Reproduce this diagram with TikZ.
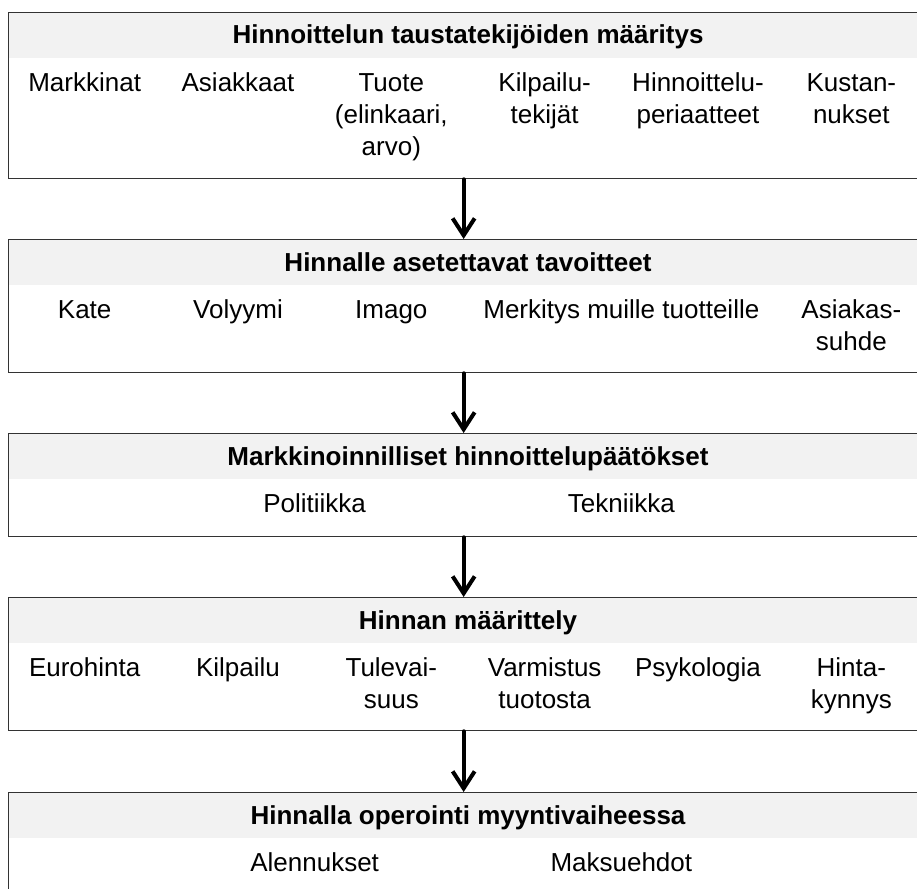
\documentclass[tikz,border=0pt]{standalone}
\usepackage{fontspec}
\setmainfont{Liberation Sans}
\usetikzlibrary{arrows.meta}
\definecolor{bandgray}{HTML}{F2F2F2}
\definecolor{framegray}{HTML}{333333}
\tikzset{
  stage/.style={draw=framegray,line width=1.3pt,minimum width=920pt,inner sep=0pt,anchor=north west},
  band/.style={fill=bandgray,minimum width=920pt,minimum height=46pt,inner sep=0pt,anchor=north west},
  title/.style={font=\fontsize{26}{32}\selectfont\bfseries,anchor=base,inner sep=0pt},
  item/.style={font=\fontsize{26}{32}\selectfont,align=center,anchor=north,inner sep=0pt},
  flow/.style={line width=4pt,-{Straight Barb[length=17pt,width=22pt]}}
}

\begin{document}
\begin{tikzpicture}[x=1pt,y=-1pt,line cap=round]
  \pgfmathsetmacro{\lx}{8}          % left edge of the boxes
  \pgfmathsetmacro{\cw}{153.33}     % column width
  \pgfmathsetmacro{\cx}{\lx+3*\cw}  % centre of the boxes
  \clip (0,0) rectangle (917,888);

  % taustatekijat
  \node[band] (taustatband) at (\lx,12) {};
  \node[stage,minimum height=166pt] (taustat) at (\lx,12) {};
  \node[title] (taustatotsikko) at (\cx,44) {Hinnoittelun taustatekijöiden määritys};
  \foreach \txt [count=\i] in {Markkinat,Asiakkaat,{Tuote\\(elinkaari,\\arvo)},
      {Kilpailu-\\tekijät},{Hinnoittelu-\\periaatteet},{Kustan-\\nukset}}{
    \node[item] (tekija\i) at ({\lx+(\i-0.5)*\cw},68.6) {\strut\txt};
  }

  % tavoitteet
  \node[band] (tavoitteetband) at (\lx,239) {};
  \node[stage,minimum height=133pt] (tavoitteet) at (\lx,239) {};
  \node[title] (tavoitteetotsikko) at (\cx,271) {Hinnalle asetettavat tavoitteet};
  \foreach \txt [count=\i] in {Kate,Volyymi,Imago}{
    \node[item] (tavoite\i) at ({\lx+(\i-0.5)*\cw},295.6) {\strut\txt};
  }
  \node[item] (tavoite4) at ({\lx+4*\cw},295.6) {\strut Merkitys muille tuotteille};
  \node[item] (tavoite5) at ({\lx+5.5*\cw},295.6) {\strut Asiakas-\\suhde};

  % paatokset
  \node[band] (paatoksetband) at (\lx,433) {};
  \node[stage,minimum height=103pt] (paatokset) at (\lx,433) {};
  \node[title] (paatoksetotsikko) at (\cx,465) {Markkinoinnilliset hinnoittelupäätökset};
  \node[item] (paatos1) at ({\lx+2*\cw},489.6) {\strut Politiikka};
  \node[item] (paatos2) at ({\lx+4*\cw},489.6) {\strut Tekniikka};

  % maarittely
  \node[band] (maarittelyband) at (\lx,597) {};
  \node[stage,minimum height=133pt] (maarittely) at (\lx,597) {};
  \node[title] (maarittelyotsikko) at (\cx,629) {Hinnan määrittely};
  \foreach \txt [count=\i] in {Eurohinta,Kilpailu,{Tulevai-\\suus},
      {Varmistus\\tuotosta},Psykologia,{Hinta-\\kynnys}}{
    \node[item] (maaritys\i) at ({\lx+(\i-0.5)*\cw},653.6) {\strut\txt};
  }

  % operointi
  \node[band] (operointiband) at (\lx,792) {};
  \node[stage,minimum height=103pt] (operointi) at (\lx,792) {};
  \node[title] (operointiotsikko) at (\cx,824) {Hinnalla operointi myyntivaiheessa};
  \node[item] (operointi1) at ({\lx+2*\cw},848.6) {\strut Alennukset};
  \node[item] (operointi2) at ({\lx+4*\cw},848.6) {\strut Maksuehdot};

  % arrows between the stages
  \draw[flow] ([xshift=-5pt]taustat.south) -- ([xshift=-5pt]tavoitteet.north);
  \draw[flow] ([xshift=-5pt]tavoitteet.south) -- ([xshift=-5pt]paatokset.north);
  \draw[flow] ([xshift=-5pt]paatokset.south) -- ([xshift=-5pt]maarittely.north);
  \draw[flow] ([xshift=-5pt]maarittely.south) -- ([xshift=-5pt]operointi.north);
\end{tikzpicture}
\end{document}
